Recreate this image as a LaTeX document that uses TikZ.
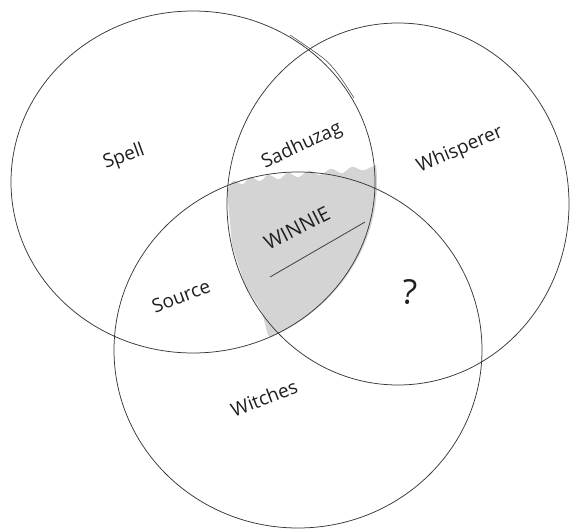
\documentclass[tikz,border=0pt]{standalone}
\usepackage{fontspec}
\setmainfont{Open Sans}
\begin{document}
\begin{tikzpicture}[x=1pt,y=-1pt,
  ring/.style={draw=black!78, line width=0.75pt},
  lbl/.style={font=\fontsize{19}{22}\selectfont, text=black!88, inner sep=0pt},
  shade/.style={fill=black!17, rounded corners=2.5pt}]
\useasboundingbox (0,0) rectangle (570,529);
\fill[white] (0,0) rectangle (570,529);
% grey shading of the triple overlap
\begin{scope}
  \clip (193,182) ellipse [x radius=184pt, y radius=171pt];
  \fill[shade] (227,190) -- (233,180) -- (243,185) -- (250,176) -- (260,182) -- (268,174)
    -- (279,180) -- (288,172) -- (298,178) -- (309,170) -- (320,176) -- (331,168)
    -- (342,174) -- (352,166) -- (363,171) -- (380,163) -- (382,300) -- (300,352)
    -- (292,350) -- (268,336) -- (262,312) -- (245,285) -- (232,245) -- cycle;
\end{scope}
% the three circles
\draw[ring] (193,182) ellipse [x radius=182pt, y radius=171pt];
\draw[ring, line width=0.5pt] plot[smooth] coordinates {(290,35) (323,58) (338,74) (354,98)};
\draw[ring] (398,204) ellipse [x radius=171pt, y radius=181pt];
\draw[ring] (298,350) ellipse [x radius=184pt, y radius=178pt];
% labels
\node[lbl, rotate=20] (spell) at (124,157) {Spell};
\node[lbl, rotate=25] (sadhuzag) at (302,146) {Sadhuzag};
\node[lbl, rotate=23] (whisperer) at (460,150) {Whisperer};
\node[lbl, rotate=27, font=\fontsize{20}{24}\selectfont] (winnie) at (297,228) {WINNIE};
\coordinate (ulA) at (270,277);
\coordinate (ulB) at (365,222);
\draw[black!75, line width=0.8pt] (ulA) -- (ulB);
\node[lbl, rotate=21] (source) at (181,296) {Source};
\node[lbl, font=\fontsize{34}{38}\selectfont, rotate=-5] (q) at (410,292) {?};
\node[lbl, rotate=21] (witches) at (264,398) {Witches};
\end{tikzpicture}
\end{document}
